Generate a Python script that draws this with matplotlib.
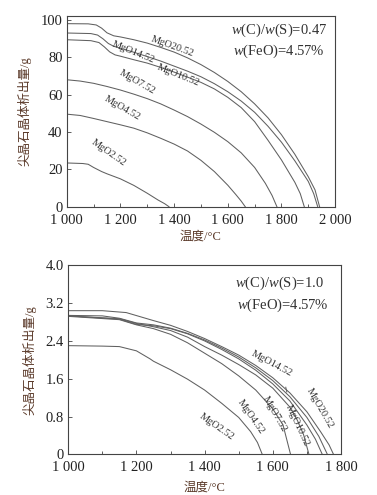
import matplotlib
matplotlib.use("Agg")
import matplotlib.pyplot as plt
from matplotlib.ticker import MultipleLocator

plt.rcParams['font.family'] = ['Liberation Serif', 'Noto Sans CJK SC']
plt.rcParams['mathtext.fontset'] = 'custom'
plt.rcParams['mathtext.rm'] = 'Liberation Serif'
plt.rcParams['mathtext.it'] = 'Liberation Serif:italic'

# ---- upper panel: w(C)/w(S)=0.47 ----
top_names = ['MgO20.52', 'MgO14.52', 'MgO10.52', 'MgO7.52', 'MgO4.52', 'MgO2.52']
t20 = [1000, 1080, 1110, 1130, 1150, 1175, 1200, 1250, 1300, 1350, 1400, 1450, 1500, 1550,
       1600, 1650, 1700, 1750, 1800, 1850, 1900, 1925, 1942]
y20 = [97.9, 97.8, 97.2, 95.5, 93.0, 91.4, 90.8, 89.3, 87.5, 85.2, 82.7, 79.6, 76.0, 71.8,
       67.0, 61.5, 55.0, 47.5, 38.5, 28.0, 16.0, 9.0, 0]
t14 = [1000, 1090, 1115, 1135, 1155, 1175, 1200, 1250, 1300, 1350, 1400, 1450, 1500, 1550,
       1600, 1650, 1700, 1750, 1800, 1850, 1900, 1920, 1935]
y14 = [92.9, 92.6, 91.8, 89.8, 87.3, 85.8, 84.8, 82.6, 80.3, 77.9, 75.2, 72.5, 69.5, 65.8,
       61.5, 56.5, 50.5, 43.0, 34.5, 24.5, 13.5, 7.0, 0]
t10 = [1000, 1090, 1120, 1140, 1160, 1180, 1200, 1250, 1300, 1350, 1400, 1450, 1500, 1550,
       1600, 1650, 1700, 1750, 1800, 1850, 1870, 1885]
y10 = [89.3, 88.8, 87.8, 85.5, 82.8, 81.2, 80.5, 78.6, 76.8, 74.5, 72.0, 69.3, 66.5, 63.0,
       58.5, 53.0, 45.5, 35.5, 25.0, 13.0, 7.0, 0]
t7 = [1000, 1050, 1100, 1150, 1200, 1250, 1300, 1350, 1400, 1450, 1500, 1550, 1600, 1650,
      1700, 1740, 1765, 1783]
y7 = [67.9, 67.2, 66.0, 64.3, 62.4, 60.2, 57.8, 55.0, 51.7, 48.2, 44.2, 39.8, 34.8, 28.8,
      21.0, 12.5, 6.0, 0]
t4 = [1000, 1050, 1100, 1150, 1200, 1250, 1300, 1350, 1400, 1450, 1500, 1550, 1600, 1630, 1650, 1665]
y4 = [49.5, 48.8, 47.2, 45.5, 43.8, 42.0, 39.5, 36.6, 33.5, 29.8, 24.8, 18.8, 11.5, 6.5, 3.0, 0]
t2 = [1000, 1060, 1080, 1100, 1130, 1150, 1200, 1250, 1300, 1340, 1365, 1381]
y2 = [23.4, 23.1, 22.7, 21.0, 18.8, 17.6, 14.9, 11.4, 7.2, 3.6, 1.6, 0]
top_t = [t20, t14, t10, t7, t4, t2]
top_y = [y20, y14, y10, y7, y4, y2]

# ---- lower panel: w(C)/w(S)=1.0 ----
b20_t = [1000, 1100, 1170, 1250, 1300, 1350, 1400, 1450, 1500, 1550, 1600, 1650, 1700, 1740, 1765, 1778]
b20_y = [3.04, 3.04, 3.00, 2.83, 2.73, 2.60, 2.45, 2.28, 2.10, 1.88, 1.62, 1.30, 0.90, 0.48, 0.20, 0]
b14_t = [1000, 1100, 1150, 1200, 1250, 1300, 1350, 1400, 1450, 1500, 1550, 1600, 1650, 1700, 1735, 1760]
b14_y = [2.94, 2.93, 2.88, 2.78, 2.74, 2.67, 2.56, 2.42, 2.25, 2.06, 1.83, 1.56, 1.22, 0.78, 0.38, 0]
b10_t = [1000, 1150, 1200, 1250, 1300, 1350, 1400, 1450, 1500, 1550, 1600, 1650, 1700, 1725, 1745]
b10_y = [2.93, 2.86, 2.75, 2.72, 2.66, 2.55, 2.40, 2.22, 2.02, 1.78, 1.49, 1.13, 0.62, 0.32, 0]
b7_t = [1000, 1150, 1200, 1250, 1300, 1350, 1400, 1450, 1500, 1550, 1600, 1650, 1672, 1690, 1706]
b7_y = [2.93, 2.87, 2.77, 2.70, 2.62, 2.48, 2.28, 2.10, 1.90, 1.68, 1.40, 1.00, 0.72, 0.42, 0]
b4_t = [1000, 1150, 1200, 1250, 1300, 1350, 1400, 1450, 1500, 1550, 1600, 1630, 1652]
b4_y = [2.92, 2.85, 2.74, 2.66, 2.54, 2.36, 2.14, 1.92, 1.66, 1.36, 0.96, 0.62, 0]
b2_t = [1000, 1100, 1150, 1200, 1240, 1250, 1300, 1350, 1400, 1450, 1500, 1535, 1555, 1569]
b2_y = [2.30, 2.29, 2.28, 2.19, 2.02, 1.97, 1.79, 1.59, 1.36, 1.08, 0.78, 0.48, 0.25, 0]
bot_t = [b20_t, b14_t, b10_t, b7_t, b4_t, b2_t]
bot_y = [b20_y, b14_y, b10_y, b7_y, b4_y, b2_y]

top_xticks = [1000, 1200, 1400, 1600, 1800, 2000]
top_xlabels = ['1 000', '1 200', '1 400', '1 600', '1 800', '2 000']
top_yticks = [0, 20, 40, 60, 80, 100]
bot_xticks = [1000, 1200, 1400, 1600, 1800]
bot_xlabels = ['1 000', '1 200', '1 400', '1 600', '1 800']
bot_yticks = [0, 0.8, 1.6, 2.4, 3.2, 4.0]
bot_ylabels = ['0', '0.8', '1.6', '2.4', '3.2', '4.0']

line_c = '#606060'
label_c = '#5b3a2a'

fig = plt.figure(figsize=(3.77, 4.95), dpi=100)
ax1 = fig.add_axes([0.177, 0.5824, 0.712, 0.3853])
ax2 = fig.add_axes([0.181, 0.0822, 0.7235, 0.3818])


def style(ax):
    for s in ax.spines.values():
        s.set_color('#444444')
        s.set_linewidth(0.8)
    ax.tick_params(direction='in', length=3, width=0.6, colors='#444444',
                   labelcolor='#222222', labelsize=10.5, top=False, right=False)
    ax.tick_params(axis='x', pad=5)
    ax.tick_params(axis='y', pad=3)
    ax.tick_params(which='minor', direction='in', length=2.5, width=0.6, colors='#444444',
                   top=False, right=False)


for t, y in zip(top_t, top_y):
    ax1.plot(t, y, color=line_c, lw=0.75)
ax1.set_xlim(1000, 2000)
ax1.set_ylim(0, 102)
ax1.set_xticks(top_xticks)
ax1.set_xticklabels(top_xlabels)
ax1.set_yticks(top_yticks)
ax1.xaxis.set_minor_locator(MultipleLocator(100))
style(ax1)
ax1.set_xlabel('温度/°C', fontsize=9, color=label_c, labelpad=3)
ax1.set_ylabel('尖晶石晶体析出量/g', fontsize=9, color=label_c, labelpad=7)

top_lab = [(1395, 85.5, -20), (1247, 82.5, -22), (1414, 70.5, -22),
           (1264, 66.8, -30), (1207, 53.0, -30), (1155, 28.8, -35)]
for name, (lx, ly, rot) in zip(top_names, top_lab):
    ax1.text(lx, ly, name, fontsize=7.5, rotation=rot, color='#333333',
             ha='center', va='center')
ax1.text(1612, 94.3, r'$\it{w}$(C)/$\it{w}$(S)=0.47', fontsize=10.5, color='#333333', va='center')
ax1.text(1618, 83.0, r'$\it{w}$(FeO)=4.57%', fontsize=10.5, color='#333333', va='center')

for t, y in zip(bot_t, bot_y):
    ax2.plot(t, y, color=line_c, lw=0.75)
ax2.set_xlim(1000, 1800)
ax2.set_ylim(0, 4.0)
ax2.set_xticks(bot_xticks)
ax2.set_xticklabels(bot_xlabels)
ax2.set_yticks(bot_yticks)
ax2.set_yticklabels(bot_ylabels)
ax2.xaxis.set_minor_locator(MultipleLocator(100))
style(ax2)
ax2.set_xlabel('温度/°C', fontsize=9, color=label_c, labelpad=5)
ax2.set_ylabel('尖晶石晶体析出量/g', fontsize=9, color=label_c, labelpad=7)

bot_lab = [(1738, 0.98, -60), (1596, 1.93, -28), (1672, 0.62, -65),
           (1604, 0.85, -60), (1536, 0.80, -55), (1436, 0.58, -35)]
for name, (lx, ly, rot) in zip(top_names, bot_lab):
    ax2.text(lx, ly, name, fontsize=7.5, rotation=rot, color='#333333',
             ha='center', va='center')
# leader tick for the MgO14.52 label
ax2.plot([1638, 1641], [1.42, 1.32], color=line_c, lw=0.7)
ax2.text(1490, 3.61, r'$\it{w}$(C)/$\it{w}$(S)=1.0', fontsize=10.5, color='#333333', va='center')
ax2.text(1495, 3.16, r'$\it{w}$(FeO)=4.57%', fontsize=10.5, color='#333333', va='center')

fig.savefig('out.png', dpi=100)
